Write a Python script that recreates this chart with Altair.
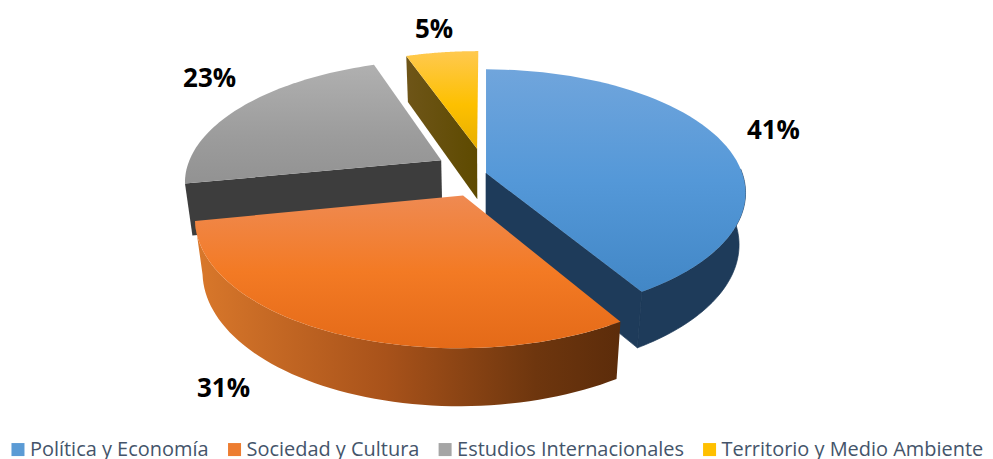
import math
import altair as alt
import pandas as pd

categories = ["Política y Economía", "Sociedad y Cultura", "Estudios Internacionales", "Territorio y Medio Ambiente"]
shares = [41.2, 30.7, 22.7, 5.4]
labels = ["41%", "31%", "23%", "5%"]
legend_colors = ["#5b9bd5", "#ed7d31", "#a5a5a5", "#ffc000"]

# layout of the perspective pie (page pixels minus the 8px margin)
OX, OY = 477.0, 164.0
A, B, K, M, D = 256.7, 120.6, 0.16, 0.025, 53.0
EXPLODE = [(0.0, 0.0), (-0.087, -0.18), (-0.178, 0.108), (-0.036, 0.21)]
LABEL_XY = [(765, 122), (214, 380), (200, 70), (425, 21)]
BLUE_WALL_FROM = 88.0


def project(x, y, z=0.0):
    w = 1 + K * y + M * z
    return [OX + A * x / w, OY - B * y / w + D * z / w]


def rim(th1, th2, ex, z=0.0, n=60):
    pts = []
    for i in range(n + 1):
        t = math.radians(th1 + (th2 - th1) * i / n)
        pts.append(project(ex[0] + math.sin(t), ex[1] + math.cos(t), z))
    return pts


def face(points):
    ring = points + [points[0]]
    return {"type": "Feature", "properties": {}, "geometry": {"type": "Polygon", "coordinates": [ring]}}


def vgrad(*stops):
    return alt.Gradient(gradient="linear", x1=0, y1=0, x2=0, y2=1,
                        stops=[alt.GradientStop(offset=o, color=c) for o, c in stops])


def hgrad(*stops):
    return alt.Gradient(gradient="linear", x1=0, y1=0, x2=1, y2=0,
                        stops=[alt.GradientStop(offset=o, color=c) for o, c in stops])


def shape(points, fill, stroke=None):
    kw = {"stroke": stroke, "strokeWidth": 0.7} if stroke else {"strokeWidth": 0}
    return alt.Chart(alt.Data(values=[face(points)])).mark_geoshape(fill=fill, **kw).project(
        type="identity", scale=1, translate=[0, 0])


angles = [0.0]
for s in shares:
    angles.append(angles[-1] + s * 3.6)
sl = [(angles[i], angles[i + 1], EXPLODE[i]) for i in range(4)]


def outer(i, start=None):
    a, b, ex = sl[i]
    a = a if start is None else start
    return rim(a, b, ex) + rim(a, b, ex, 1.0)[::-1]


def radial(i, th):
    ex = sl[i][2]
    t = math.radians(th)
    p, q = (ex[0] + math.sin(t), ex[1] + math.cos(t)), ex
    return [project(*q), project(*p), project(*p, 1.0), project(*q, 1.0)]


def top(i):
    a, b, ex = sl[i]
    return [project(*ex)] + rim(a, b, ex)


layers = []
# gray
layers += [shape(radial(2, angles[2]), "#3d3d3d"),
           shape(top(2), vgrad((0, "#b0b0b0"), (0.6, "#9c9c9c"), (1, "#929292")))]
# yellow
layers += [shape(radial(3, angles[3]), hgrad((0, "#6e5518"), (1, "#5e4a00"))),
           shape(top(3), vgrad((0, "#ffc94f"), (0.55, "#fdc000"), (1, "#e8af00")))]
# blue
layers += [shape(outer(0, BLUE_WALL_FROM), "#1e3b5a", "#1e3b5a"), shape(radial(0, angles[1]), "#1e3b5a", "#1e3b5a"),
           shape(top(0), vgrad((0, "#70a5dc"), (0.5, "#5498d8"), (1, "#4287c6")))]
# orange
layers += [shape(outer(1), hgrad((0, "#d9782b"), (0.45, "#a8521a"), (0.8, "#6e360e"), (1, "#5c2c0a"))),
           shape(top(1), vgrad((0, "#ef8a52"), (0.5, "#f37a24"), (1, "#e46a18")))]

for text, (lx, ly) in zip(labels, LABEL_XY):
    layers.append(
        alt.Chart(alt.Data(values=[{"t": text}])).mark_text(
            font="Open Sans", fontSize=26, fontWeight="bold", color="#000000", align="center", baseline="middle"
        ).encode(text="t:N", x=alt.value(lx), y=alt.value(ly))
    )

legend_df = pd.DataFrame({"c": categories})
layers.append(
    alt.Chart(legend_df).mark_square(size=1, opacity=0).encode(
        x=alt.value(0), y=alt.value(0),
        color=alt.Color("c:N", sort=categories,
                        scale=alt.Scale(domain=categories, range=legend_colors),
                        legend=alt.Legend(title=None, orient="none", direction="horizontal",
                                          legendX=-2, legendY=431, symbolType="square", symbolSize=170,
                                          symbolOpacity=1, symbolStrokeWidth=0,
                                          labelFont="Open Sans", labelFontSize=20, labelColor="#44546a",
                                          labelLimit=400, columnPadding=15, labelOffset=2))
    )
)

chart = alt.layer(*layers).properties(width=977, height=451, padding=0).configure_view(stroke=None)
chart.save("out.html", embed_options={"renderer": "svg", "actions": False})
